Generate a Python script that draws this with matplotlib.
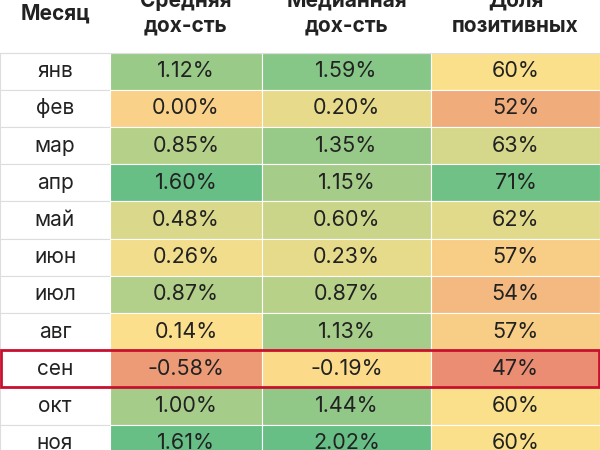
import matplotlib
matplotlib.use("Agg")
import matplotlib.pyplot as plt
from matplotlib.colors import LinearSegmentedColormap, TwoSlopeNorm
from matplotlib.patches import Rectangle

months = ["янв", "фев", "мар", "апр", "май", "июн", "июл", "авг", "сен", "окт", "ноя"]
mean_ret = [1.12, 0.00, 0.85, 1.60, 0.48, 0.26, 0.87, 0.14, -0.58, 1.00, 1.61]
median_ret = [1.59, 0.20, 1.35, 1.15, 0.60, 0.23, 0.87, 1.13, -0.19, 1.44, 2.02]
pos_share = [60, 52, 63, 71, 62, 57, 54, 57, 47, 60, 60]
headers = ["Месяц", "Средняя\nдох-сть", "Медианная\nдох-сть", "Доля\nпозитивных"]
highlight = "сен"

cmap = LinearSegmentedColormap.from_list("rg", ["#E8806F", "#FCE08C", "#63BE86"])
norms = [TwoSlopeNorm(vmin=-0.85, vcenter=0.15, vmax=1.65),
         TwoSlopeNorm(vmin=-1.6, vcenter=-0.1, vmax=2.1),
         TwoSlopeNorm(vmin=45, vcenter=60, vmax=72)]

plt.rcParams['font.family'] = ['Inter', 'DejaVu Sans']
fig = plt.figure(figsize=(6, 4.5), dpi=100)
ax = fig.add_axes([0, 0, 1, 1])
ax.set_xlim(0, 600)
ax.set_ylim(450, 0)
ax.axis("off")

col_x = [0, 110, 262, 431, 600]
row_h = 37.2
top = 52.5
hdr_top = -30

for c, h in enumerate(headers):
    ax.text((col_x[c] + col_x[c + 1]) / 2, (hdr_top + top) / 2 + 2, h, ha="center", va="center",
            fontsize=15, fontweight="bold", color="#222222", linespacing=1.3)

cols = [mean_ret, median_ret, pos_share]
for r, m in enumerate(months):
    y0 = top + r * row_h
    yc = y0 + row_h / 2
    ax.add_patch(Rectangle((col_x[0], y0), col_x[1] - col_x[0], row_h, facecolor="white",
                           edgecolor="#DDDDDD", lw=0.8))
    ax.text((col_x[0] + col_x[1]) / 2, yc, m, ha="center", va="center", fontsize=15, color="#222222")
    for c, vals in enumerate(cols):
        v = vals[r]
        ax.add_patch(Rectangle((col_x[c + 1], y0), col_x[c + 2] - col_x[c + 1], row_h,
                               facecolor=cmap(norms[c](v)), edgecolor="white", lw=0.8))
        txt = f"{v:.2f}%" if c < 2 else f"{v:.0f}%"
        ax.text((col_x[c + 1] + col_x[c + 2]) / 2, yc, txt, ha="center", va="center",
                fontsize=15.5, color="#222222")
    if m == highlight:
        ax.add_patch(Rectangle((1, y0), 598, row_h, facecolor="none", edgecolor="#C8102E", lw=2, zorder=5))

ax.plot([0, 600], [top, top], color="#DDDDDD", lw=0.8)
fig.savefig("out.png", dpi=100)
